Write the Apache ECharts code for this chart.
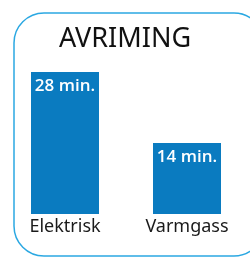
<!DOCTYPE html>
<html>
<head>
<meta charset="utf-8">
<script src="https://cdn.jsdelivr.net/npm/echarts@6/dist/echarts.min.js"></script>
<style>
  html, body { margin: 0; padding: 0; background: #fff; }
  #chart { width: 250px; height: 258px; }
</style>
</head>
<body>
<div id="chart"></div>
<script>
var categories = ['Elektrisk', 'Varmgass'];
var minutes = [28, 14];

var myChart = echarts.init(document.getElementById('chart'));
var option = {
    animation: false,
    title: {
        text: 'AVRIMING',
        left: 'center',
        top: 21,
        textStyle: { fontFamily: 'Noto Sans', fontSize: 27, fontWeight: 'normal', color: '#111' }
    },
    graphic: [{
        type: 'rect',
        shape: { x: 14, y: 13, width: 250, height: 243, r: 30 },
        style: { fill: 'none', stroke: '#2ba8e2', lineWidth: 1.5 },
        silent: true
    }],
    grid: { left: 4, right: 2, top: 72, bottom: 44 },
    xAxis: {
        type: 'category',
        data: categories,
        axisLine: { show: false },
        axisTick: { show: false },
        axisLabel: { margin: 4, fontFamily: 'Noto Sans', fontSize: 18, color: '#1a1a1a' }
    },
    yAxis: {
        type: 'value',
        min: 0,
        max: 28,
        show: false,
        splitLine: { show: false }
    },
    series: [{
        type: 'bar',
        data: minutes,
        barWidth: 68,
        itemStyle: { color: '#0a7bc0' },
        label: {
            show: true,
            position: 'insideTop',
            distance: 6,
            formatter: '{c} min.',
            fontFamily: 'Open Sans',
            fontSize: 17,
            fontWeight: 600,
            color: '#fff'
        }
    }]
};
myChart.setOption(option);
</script>
</body>
</html>
